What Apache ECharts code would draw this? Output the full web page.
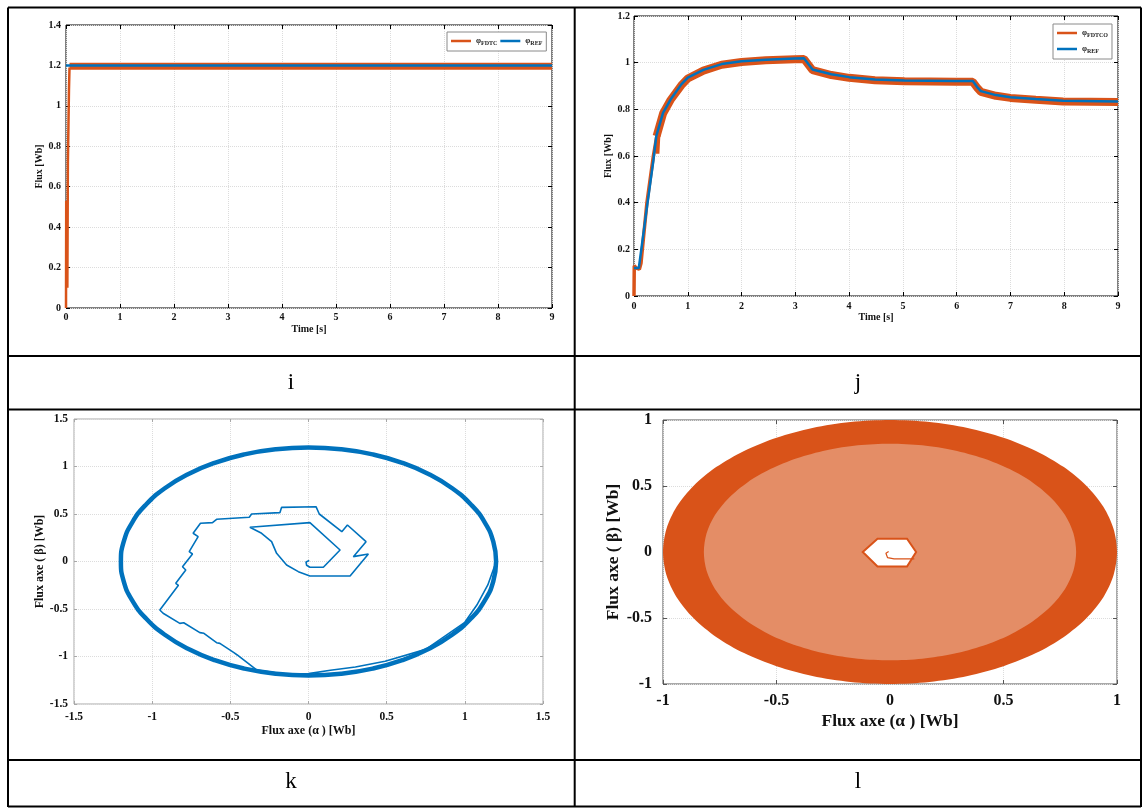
<!DOCTYPE html>
<html><head><meta charset="utf-8">
<script src="https://cdn.jsdelivr.net/npm/echarts@6/dist/echarts.min.js"></script>
<style>html,body{margin:0;padding:0;background:#fff}#c{width:1146px;height:808px}</style>
</head><body><div id="c"></div>
<script>
// ---------- data ----------
const captions = ['i', 'j', 'k', 'l'];
// (i) flux, FDTC vs reference
const iFdtcStart = [[0,0],[0.004,0.53],[0.01,0.1],[0.018,0.5],[0.025,0.1],[0.035,0.72],[0.045,0.9],[0.055,1.08],[0.065,1.19]];
const iFdtcBand = [[0.065,1.196],[9,1.196]];
const iRef = [[0,1.2],[9,1.2]];
// (j) flux, FDTCO vs reference
const jFdtcoStart = [[0,0],[0.005,0.13],[0.04,0.12],[0.1,0.115],[0.13,0.14],[0.24,0.4],[0.36,0.6],[0.42,0.68],[0.44,0.61],[0.46,0.7]];
const jFdtcoBand = [[0.42,0.685],[0.54,0.782],[0.68,0.84],[0.88,0.903],[1.0,0.932],[1.29,0.966],[1.63,0.991],[2.0,1.003],[2.45,1.01],[2.99,1.015],[3.16,1.016],[3.32,0.968],[3.67,0.947],[4.0,0.935],[4.48,0.925],[5.03,0.92],[5.98,0.918],[6.3,0.918],[6.39,0.89],[6.45,0.875],[6.73,0.858],[7.0,0.849],[7.47,0.841],[7.98,0.834],[9,0.831]];
const jRef = [[0,0.12],[0.09,0.12],[0.24,0.38],[0.36,0.58],[0.415,0.686],[0.54,0.785],[0.68,0.842],[0.88,0.907],[1.0,0.936],[1.29,0.969],[1.63,0.994],[2.0,1.006],[2.45,1.013],[2.99,1.018],[3.16,1.019],[3.32,0.971],[3.67,0.95],[4.0,0.938],[4.48,0.928],[5.03,0.924],[5.98,0.921],[6.3,0.921],[6.39,0.893],[6.45,0.878],[6.73,0.861],[7.0,0.852],[7.47,0.844],[7.98,0.837],[9,0.834]];
// (k) flux locus, steady circle and start-up trajectory
const kCircle = [[1.2,0],[1.182,0.208],[1.128,0.41],[1.039,0.6],[0.919,0.771],[0.771,0.919],[0.6,1.039],[0.41,1.128],[0.208,1.182],
  [0,1.2],[-0.208,1.182],[-0.41,1.128],[-0.6,1.039],[-0.771,0.919],[-0.919,0.771],[-1.039,0.6],[-1.128,0.41],[-1.182,0.208],
  [-1.2,0],[-1.182,-0.208],[-1.128,-0.41],[-1.039,-0.6],[-0.919,-0.771],[-0.771,-0.919],[-0.6,-1.039],[-0.41,-1.128],[-0.208,-1.182],
  [0,-1.2],[0.208,-1.182],[0.41,-1.128],[0.6,-1.039],[0.771,-0.919],[0.919,-0.771],[1.039,-0.6],[1.128,-0.41],[1.182,-0.208],[1.2,0]];
const kStartup = [[0.005,0.01],[-0.016,-0.005],[-0.012,-0.04],[0.009,-0.061],[0.095,-0.061],[0.202,0.121],[0.009,0.409],[-0.375,0.36],
  [-0.3,0.297],[-0.236,0.209],[-0.204,0.086],[-0.14,-0.037],[-0.065,-0.107],[0.009,-0.153],[0.266,-0.153],[0.383,0.079],[0.287,0.051],
  [0.368,0.209],[0.249,0.384],[0.213,0.314],[0.069,0.5],[0.048,0.577],[-0.172,0.57],[-0.183,0.514],[-0.364,0.5],[-0.379,0.465],
  [-0.588,0.444],[-0.614,0.409],[-0.691,0.402],[-0.738,0.297],[-0.706,0.261],[-0.763,0.103],[-0.742,0.079],[-0.806,-0.055],
  [-0.785,-0.089],[-0.849,-0.23],[-0.832,-0.251],[-0.951,-0.511],[-0.93,-0.545],[-0.823,-0.651],[-0.798,-0.645],[-0.695,-0.749],
  [-0.669,-0.756],[-0.588,-0.855],[-0.567,-0.862],[-0.477,-0.96],[-0.456,-0.984],[-0.332,-1.142],[-0.15,-1.185],[0.0,-1.18],
  [0.14,-1.145],[0.3,-1.11],[0.49,-1.05],[0.75,-0.925],[1.0,-0.64],[1.077,-0.458],[1.147,-0.247],[1.19,-0.05]];
// (l) flux locus, FDTCO
const lOuter = [[1,0],[0.985,0.174],[0.94,0.342],[0.866,0.5],[0.766,0.643],[0.643,0.766],[0.5,0.866],[0.342,0.94],[0.174,0.985],
  [0,1],[-0.174,0.985],[-0.342,0.94],[-0.5,0.866],[-0.643,0.766],[-0.766,0.643],[-0.866,0.5],[-0.94,0.342],[-0.985,0.174],
  [-1,0],[-0.985,-0.174],[-0.94,-0.342],[-0.866,-0.5],[-0.766,-0.643],[-0.643,-0.766],[-0.5,-0.866],[-0.342,-0.94],[-0.174,-0.985],
  [0,-1],[0.174,-0.985],[0.342,-0.94],[0.5,-0.866],[0.643,-0.766],[0.766,-0.643],[0.866,-0.5],[0.94,-0.342],[0.985,-0.174]];
const lInner = [[0.82,0],[0.808,0.142],[0.771,0.28],[0.71,0.41],[0.628,0.527],[0.527,0.628],[0.41,0.71],[0.28,0.771],[0.142,0.808],
  [0,0.82],[-0.142,0.808],[-0.28,0.771],[-0.41,0.71],[-0.527,0.628],[-0.628,0.527],[-0.71,0.41],[-0.771,0.28],[-0.808,0.142],
  [-0.82,0],[-0.808,-0.142],[-0.771,-0.28],[-0.71,-0.41],[-0.628,-0.527],[-0.527,-0.628],[-0.41,-0.71],[-0.28,-0.771],[-0.142,-0.808],
  [0,-0.82],[0.142,-0.808],[0.28,-0.771],[0.41,-0.71],[0.527,-0.628],[0.628,-0.527],[0.71,-0.41],[0.771,-0.28],[0.808,-0.142]];
const lHole = [[-0.12,0],[-0.055,0.1],[0.075,0.1],[0.115,0],[0.075,-0.11],[-0.055,-0.11]];
const lHook = [[-0.006,0.004],[-0.018,-0.009],[-0.011,-0.042],[0.018,-0.052],[0.107,-0.052]];
// ---------- styling ----------
const ORANGE = '#D95319', BLUE = '#0072BD';
const FONT = "'Liberation Serif', 'Times New Roman', serif";
const legendNames = {FDTC_i:'{p|φ}{s|FDTC}', REF_i:'{p|φ}{s|REF}', FDTCO_j:'{p|φ}{s|FDTCO}', REF_j:'{p|φ}{s|REF}'};

const grids = [
  {left:66, top:25, width:486, height:283},
  {left:634, top:16, width:484, height:280},
  {left:74, top:419, width:469, height:285},
  {left:663, top:420, width:454, height:264}
];
const gridBorder = ['#000','#000','#a8a8a8','#555'];
const ax = [
  {x:[0,9,1], y:[0,1.4,0.2], lab:10, name:10, xname:'Time [s]', yname:'Flux [Wb]', xGap:16, yGap:20, xm:4, ym:5, tick:4},
  {x:[0,9,1], y:[0,1.2,0.2], lab:10, name:10, xname:'Time [s]', yname:'Flux [Wb]', xGap:16, yGap:20, xm:5, ym:4, tick:4},
  {x:[-1.5,1.5,0.5], y:[-1.5,1.5,0.5], lab:11.5, name:12, xname:'Flux axe (α ) [Wb]', yname:'Flux axe ( β) [Wb]', xGap:21, yGap:25, xm:7, ym:6, tick:3},
  {x:[-1,1,0.5], y:[-1,1,0.5], lab:16, name:17.5, xname:'Flux axe (α ) [Wb]', yname:'Flux axe ( β) [Wb]', xGap:28, yGap:40, xm:9, ym:11, tick:4}
];
const xAxes = [], yAxes = [];
ax.forEach((a, g) => {
  xAxes.push({type:'value', gridIndex:g, min:a.x[0], max:a.x[1], interval:a.x[2], position:'bottom',
    name:a.xname, nameLocation:'middle', nameGap:a.xGap,
    nameTextStyle:{fontFamily:FONT, fontWeight:'bold', fontSize:a.name, color:'#111'},
    axisLine:{show:false, onZero:false}, axisTick:{show:true, inside:true, length:a.tick, lineStyle:{color:gridBorder[g]}},
    axisLabel:{fontFamily:FONT, fontWeight:'bold', fontSize:a.lab, color:'#111', margin:a.xm, showMinLabel:true, showMaxLabel:true},
    splitLine:{show:true, lineStyle:{color:'#dcdcdc', type:'dotted', width:1}}});
  yAxes.push({type:'value', gridIndex:g, min:a.y[0], max:a.y[1], interval:a.y[2], position:'left',
    name:a.yname, nameLocation:'middle', nameGap:a.yGap,
    nameTextStyle:{fontFamily:FONT, fontWeight:'bold', fontSize:a.name, color:'#111'},
    axisLine:{show:false, onZero:false}, axisTick:{show:true, inside:true, length:a.tick, lineStyle:{color:gridBorder[g]}},
    axisLabel:{fontFamily:FONT, fontWeight:'bold', fontSize:a.lab, color:'#111', margin:a.ym, showMinLabel:true, showMaxLabel:true},
    splitLine:{show:true, lineStyle:{color:'#dcdcdc', type:'dotted', width:1}}});
});
ax.forEach((a, g) => {
  xAxes.push({type:'value', gridIndex:g, min:a.x[0], max:a.x[1], interval:a.x[2], position:'top',
    axisLine:{show:false, onZero:false}, axisLabel:{show:false}, splitLine:{show:false},
    axisTick:{show:true, inside:true, length:a.tick, lineStyle:{color:gridBorder[g]}}});
  yAxes.push({type:'value', gridIndex:g, min:a.y[0], max:a.y[1], interval:a.y[2], position:'right',
    axisLine:{show:false, onZero:false}, axisLabel:{show:false}, splitLine:{show:false},
    axisTick:{show:true, inside:true, length:a.tick, lineStyle:{color:gridBorder[g]}}});
});

function line(name, data, g, color, width, z, smooth) {
  return {type:'line', name:name, data:data, xAxisIndex:g, yAxisIndex:g, symbol:'none', silent:true,
    animation:false, z:z||2, smooth:smooth||false, lineStyle:{color:color, width:width}, itemStyle:{color:color}};
}

const lPolys = [
  {pts:lOuter, fill:ORANGE, stroke:null},
  {pts:lInner, fill:'#E48D66', stroke:null},
  {pts:lHole, fill:'#ffffff', stroke:ORANGE}
];

const series = [
  line('FDTC_i', iFdtcStart, 0, ORANGE, 2.5, 2),
  line('FDTC_i', iFdtcBand, 0, ORANGE, 7, 2),
  line('REF_i', iRef, 0, BLUE, 2.5, 3),
  line('FDTCO_j', jFdtcoStart, 1, ORANGE, 3.5, 2),
  line('FDTCO_j', jFdtcoBand, 1, ORANGE, 8, 2),
  line('REF_j', jRef, 1, BLUE, 2.5, 3),
  line('kc', kCircle, 2, BLUE, 4.5, 2, 0.5),
  line('ks', kStartup, 2, BLUE, 1.6, 2),
  {type:'custom', coordinateSystem:'cartesian2d', xAxisIndex:3, yAxisIndex:3, silent:true, animation:false,
   data: lPolys.map(() => [0, 0]),
   renderItem: function (params, api) {
     const p = lPolys[params.dataIndex];
     return {type:'polygon', shape:{points:p.pts.map(q => api.coord(q)), smooth:p.stroke ? 0 : 0.3},
       style:{fill:p.fill, stroke:p.stroke || 'none', lineWidth:p.stroke ? 2 : 0}};
   }},
  line('lh', lHook, 3, ORANGE, 1.2, 3)
];

const legendBase = {
  backgroundColor:'#fff', borderColor:'#8a8a8a', borderWidth:1, borderRadius:0,
  icon:'rect', itemWidth:20, itemHeight:2.5,
  formatter: n => legendNames[n],
  textStyle:{fontFamily:FONT, fontWeight:'bold', color:'#222', fontSize:8,
    rich:{p:{fontFamily:FONT, fontSize:8, fontWeight:'bold', color:'#222'},
          s:{fontFamily:FONT, fontSize:6, fontWeight:'bold', color:'#222', padding:[4,0,0,0]}}},
  selectedMode:false
};

const graphic = [];
const lineStyle = {stroke:'#000', lineWidth:2};
[[8,7.5,1141,7.5],[8,356,1141,356],[8,409.5,1141,409.5],[8,760,1141,760],[8,806.5,1141,806.5],
 [8,7.5,8,807],[574.7,7.5,574.7,807],[1141,7.5,1141,807]].forEach(s => {
  graphic.push({type:'line', shape:{x1:s[0], y1:s[1], x2:s[2], y2:s[3]}, style:lineStyle, z:100, silent:true});
});
const capPos = [[291,383],[858,383],[291,782],[858,782]];
captions.forEach((c, k) => {
  graphic.push({type:'text', x:capPos[k][0], y:capPos[k][1], z:100, silent:true,
    style:{text:c, fontFamily:FONT, fontSize:23, fill:'#000', align:'center', verticalAlign:'middle'}});
});

const chart = echarts.init(document.getElementById('c'), null, {renderer:'canvas'});
chart.setOption({
  animation:false,
  backgroundColor:'#fff',
  grid: grids.map((g, k) => Object.assign({show:true, borderColor:gridBorder[k], borderWidth:1, backgroundColor:'transparent', containLabel:false}, g)),
  xAxis: xAxes,
  yAxis: yAxes,
  legend: [
    Object.assign({}, legendBase, {data:['FDTC_i','REF_i'], left:447, top:32, orient:'horizontal', padding:[5,4], itemGap:3}),
    Object.assign({}, legendBase, {data:['FDTCO_j','REF_j'], left:1053, top:24, orient:'vertical', padding:[5,4], itemGap:7})
  ],
  series: series,
  graphic: graphic
});
</script></body></html>
